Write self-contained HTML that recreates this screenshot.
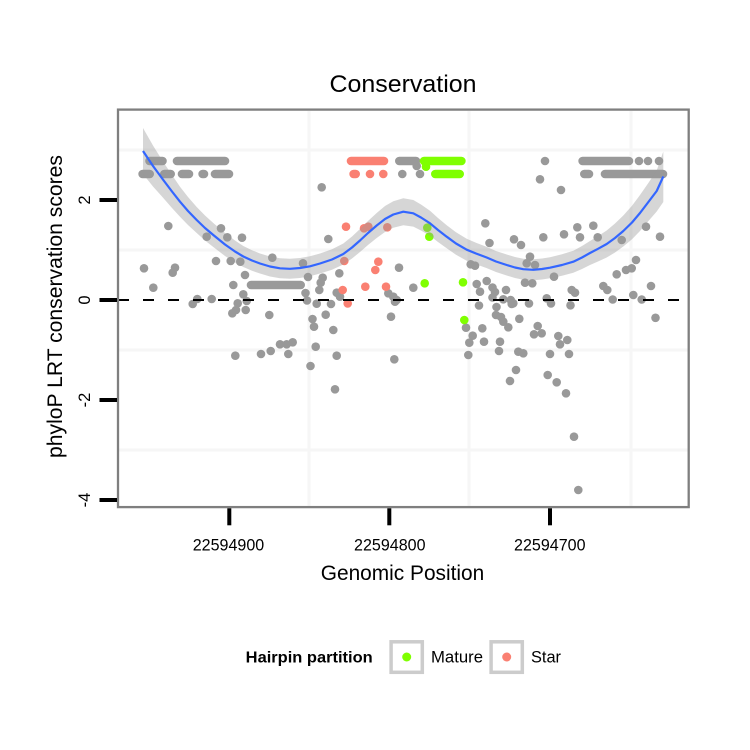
<!DOCTYPE html>
<html>
<head>
<meta charset="utf-8">
<style>
html,body{margin:0;padding:0;background:#fff;}
svg{display:block;}
text{font-family:"Liberation Sans",Arial,sans-serif;fill:#000;}
</style>
</head>
<body>
<svg width="750" height="750" viewBox="0 0 750 750" xmlns="http://www.w3.org/2000/svg">
<rect x="0" y="0" width="750" height="750" fill="#fff"/>
<text x="403" y="92" font-size="24" text-anchor="middle" textLength="147" lengthAdjust="spacingAndGlyphs">Conservation</text>
<g stroke="#f6f6f6" stroke-width="3">
<line x1="119" y1="150" x2="688" y2="150"/>
<line x1="119" y1="250" x2="688" y2="250"/>
<line x1="119" y1="350" x2="688" y2="350"/>
<line x1="119" y1="450" x2="688" y2="450"/>
<line x1="309" y1="111" x2="309" y2="506"/>
<line x1="469" y1="111" x2="469" y2="506"/>
<line x1="631" y1="111" x2="631" y2="506"/>
</g>
<g fill="#999999">
<circle cx="168.3" cy="226" r="4.3"/>
<circle cx="221" cy="228.3" r="4.3"/>
<circle cx="206.7" cy="236.7" r="4.3"/>
<circle cx="227.3" cy="237.3" r="4.3"/>
<circle cx="242" cy="237.7" r="4.3"/>
<circle cx="272.3" cy="257.7" r="4.3"/>
<circle cx="216" cy="261" r="4.3"/>
<circle cx="230.7" cy="261" r="4.3"/>
<circle cx="240.3" cy="261.7" r="4.3"/>
<circle cx="303" cy="263.3" r="4.3"/>
<circle cx="144" cy="268.3" r="4.3"/>
<circle cx="175" cy="267.7" r="4.3"/>
<circle cx="172.7" cy="272.7" r="4.3"/>
<circle cx="245" cy="275" r="4.3"/>
<circle cx="308" cy="277" r="4.3"/>
<circle cx="153.3" cy="287.7" r="4.3"/>
<circle cx="233.3" cy="285" r="4.3"/>
<circle cx="243.3" cy="294.3" r="4.3"/>
<circle cx="305.5" cy="293" r="4.3"/>
<circle cx="197.3" cy="299" r="4.3"/>
<circle cx="192.7" cy="304" r="4.3"/>
<circle cx="211.7" cy="299" r="4.3"/>
<circle cx="237.7" cy="303.3" r="4.3"/>
<circle cx="246.7" cy="301" r="4.3"/>
<circle cx="236" cy="310" r="4.3"/>
<circle cx="245.7" cy="310" r="4.3"/>
<circle cx="232.3" cy="313.3" r="4.3"/>
<circle cx="269.3" cy="315" r="4.3"/>
<circle cx="312.5" cy="319" r="4.3"/>
<circle cx="235.3" cy="355.7" r="4.3"/>
<circle cx="261" cy="354" r="4.3"/>
<circle cx="270.7" cy="351" r="4.3"/>
<circle cx="280" cy="344.3" r="4.3"/>
<circle cx="286.7" cy="344.3" r="4.3"/>
<circle cx="292.7" cy="342.3" r="4.3"/>
<circle cx="288.3" cy="354" r="4.3"/>
<circle cx="310.5" cy="366" r="4.3"/>
<circle cx="321.7" cy="187.3" r="4.3"/>
<circle cx="328.3" cy="239" r="4.3"/>
<circle cx="485.3" cy="223.3" r="4.3"/>
<circle cx="489.5" cy="243" r="4.3"/>
<circle cx="399" cy="267.7" r="4.3"/>
<circle cx="339.3" cy="273.3" r="4.3"/>
<circle cx="470.7" cy="264.3" r="4.3"/>
<circle cx="475" cy="265.7" r="4.3"/>
<circle cx="322.7" cy="277.7" r="4.3"/>
<circle cx="320.7" cy="282.7" r="4.3"/>
<circle cx="319.3" cy="290" r="4.3"/>
<circle cx="413.3" cy="287.7" r="4.3"/>
<circle cx="476.7" cy="284" r="4.3"/>
<circle cx="486.7" cy="281" r="4.3"/>
<circle cx="480" cy="291.7" r="4.3"/>
<circle cx="492.5" cy="287.5" r="4.3"/>
<circle cx="495" cy="292" r="4.3"/>
<circle cx="492.5" cy="297.5" r="4.3"/>
<circle cx="336.7" cy="292.7" r="4.3"/>
<circle cx="340" cy="296.7" r="4.3"/>
<circle cx="307" cy="300.5" r="4.3"/>
<circle cx="388.3" cy="293.3" r="4.3"/>
<circle cx="393.3" cy="296.7" r="4.3"/>
<circle cx="396.7" cy="300" r="4.3"/>
<circle cx="395" cy="301.7" r="4.3"/>
<circle cx="316.7" cy="303.7" r="4.3"/>
<circle cx="331" cy="304" r="4.3"/>
<circle cx="325.7" cy="314.7" r="4.3"/>
<circle cx="391" cy="316.7" r="4.3"/>
<circle cx="479" cy="305.5" r="4.3"/>
<circle cx="496.5" cy="307" r="4.3"/>
<circle cx="496" cy="315" r="4.3"/>
<circle cx="501" cy="317" r="4.3"/>
<circle cx="314" cy="326.7" r="4.3"/>
<circle cx="333.3" cy="330" r="4.3"/>
<circle cx="315.7" cy="346.7" r="4.3"/>
<circle cx="336.7" cy="355.7" r="4.3"/>
<circle cx="394.3" cy="359.3" r="4.3"/>
<circle cx="335" cy="389.3" r="4.3"/>
<circle cx="466" cy="327.7" r="4.3"/>
<circle cx="472.7" cy="335.7" r="4.3"/>
<circle cx="469.3" cy="342.7" r="4.3"/>
<circle cx="482.3" cy="328.3" r="4.3"/>
<circle cx="484" cy="341.7" r="4.3"/>
<circle cx="468.3" cy="355" r="4.3"/>
<circle cx="500" cy="341.7" r="4.3"/>
<circle cx="499" cy="351" r="4.3"/>
<circle cx="545" cy="161" r="4.3"/>
<circle cx="540" cy="179.3" r="4.3"/>
<circle cx="561" cy="190" r="4.3"/>
<circle cx="577.3" cy="227.3" r="4.3"/>
<circle cx="593.3" cy="225.7" r="4.3"/>
<circle cx="646" cy="226.7" r="4.3"/>
<circle cx="660" cy="236.7" r="4.3"/>
<circle cx="543.3" cy="237.3" r="4.3"/>
<circle cx="564" cy="234.3" r="4.3"/>
<circle cx="580" cy="237.3" r="4.3"/>
<circle cx="597.7" cy="237.3" r="4.3"/>
<circle cx="621.7" cy="240" r="4.3"/>
<circle cx="514" cy="239.3" r="4.3"/>
<circle cx="521" cy="245" r="4.3"/>
<circle cx="530" cy="256.7" r="4.3"/>
<circle cx="526.7" cy="263.3" r="4.3"/>
<circle cx="535" cy="265" r="4.3"/>
<circle cx="554" cy="276.7" r="4.3"/>
<circle cx="616.7" cy="274.3" r="4.3"/>
<circle cx="626" cy="270" r="4.3"/>
<circle cx="631.7" cy="268.3" r="4.3"/>
<circle cx="636" cy="260" r="4.3"/>
<circle cx="525" cy="282.7" r="4.3"/>
<circle cx="532.3" cy="283.3" r="4.3"/>
<circle cx="651" cy="286" r="4.3"/>
<circle cx="603.3" cy="286" r="4.3"/>
<circle cx="607.3" cy="290" r="4.3"/>
<circle cx="571.7" cy="290" r="4.3"/>
<circle cx="575" cy="292.7" r="4.3"/>
<circle cx="506" cy="290" r="4.3"/>
<circle cx="503.3" cy="299.3" r="4.3"/>
<circle cx="510.7" cy="300" r="4.3"/>
<circle cx="513.3" cy="303.3" r="4.3"/>
<circle cx="529" cy="303.5" r="4.3"/>
<circle cx="546.7" cy="298.3" r="4.3"/>
<circle cx="551" cy="303.5" r="4.3"/>
<circle cx="570.5" cy="305.3" r="4.3"/>
<circle cx="612.7" cy="299.5" r="4.3"/>
<circle cx="633.3" cy="295" r="4.3"/>
<circle cx="641.7" cy="299.5" r="4.3"/>
<circle cx="519.3" cy="318.8" r="4.3"/>
<circle cx="655.5" cy="317.8" r="4.3"/>
<circle cx="503.3" cy="321.7" r="4.3"/>
<circle cx="508.3" cy="327.3" r="4.3"/>
<circle cx="511.7" cy="304" r="4.3"/>
<circle cx="537.7" cy="326" r="4.3"/>
<circle cx="534" cy="334.3" r="4.3"/>
<circle cx="541.7" cy="333.3" r="4.3"/>
<circle cx="558.3" cy="336" r="4.3"/>
<circle cx="567.3" cy="340" r="4.3"/>
<circle cx="560" cy="344.3" r="4.3"/>
<circle cx="518.3" cy="351.7" r="4.3"/>
<circle cx="523.3" cy="353.3" r="4.3"/>
<circle cx="550" cy="354" r="4.3"/>
<circle cx="569" cy="354" r="4.3"/>
<circle cx="516" cy="370" r="4.3"/>
<circle cx="510" cy="381" r="4.3"/>
<circle cx="547.7" cy="375" r="4.3"/>
<circle cx="556.7" cy="382.3" r="4.3"/>
<circle cx="566" cy="393.3" r="4.3"/>
<circle cx="574" cy="436.7" r="4.3"/>
<circle cx="578.3" cy="490" r="4.3"/>
<circle cx="416.7" cy="166" r="4.3"/>
<circle cx="402.3" cy="174" r="4.3"/>
<circle cx="420" cy="174" r="4.3"/>
<circle cx="639" cy="161" r="4.3"/>
<circle cx="648" cy="161" r="4.3"/>
<circle cx="659" cy="161" r="4.3"/>
</g>
<g stroke="#999999" stroke-width="8.6" stroke-linecap="round" fill="none">
<line x1="149.5" y1="161" x2="162.5" y2="161"/>
<line x1="177" y1="161" x2="225" y2="161"/>
<line x1="399.3" y1="161" x2="416" y2="161"/>
<line x1="582.6" y1="161" x2="629" y2="161"/>
<line x1="142.6" y1="174" x2="149.7" y2="174"/>
<line x1="164.3" y1="174" x2="170.7" y2="174"/>
<line x1="182" y1="174" x2="189" y2="174"/>
<line x1="202.6" y1="174" x2="204" y2="174"/>
<line x1="215" y1="174" x2="229" y2="174"/>
<line x1="584.3" y1="174" x2="589" y2="174"/>
<line x1="605" y1="174" x2="663" y2="174"/>
<line x1="251" y1="285" x2="300.7" y2="285"/>
</g>
<g fill="#FA8072">
<circle cx="346" cy="226.7" r="4.3"/>
<circle cx="364" cy="228.3" r="4.3"/>
<circle cx="368.3" cy="226.7" r="4.3"/>
<circle cx="387.3" cy="227.3" r="4.3"/>
<circle cx="344.3" cy="261" r="4.3"/>
<circle cx="378.3" cy="261.7" r="4.3"/>
<circle cx="375.3" cy="270" r="4.3"/>
<circle cx="365.3" cy="286.7" r="4.3"/>
<circle cx="386" cy="286.7" r="4.3"/>
<circle cx="342.7" cy="290" r="4.3"/>
<circle cx="347.7" cy="303.5" r="4.3"/>
<circle cx="370" cy="174" r="4.3"/>
<circle cx="383.3" cy="174" r="4.3"/>
</g>
<g stroke="#FA8072" stroke-width="8.6" stroke-linecap="round" fill="none">
<line x1="351" y1="161" x2="384" y2="161"/>
<line x1="353.6" y1="174" x2="355.7" y2="174"/>
</g>
<g fill="#7FFF00">
<circle cx="427.3" cy="227.7" r="4.3"/>
<circle cx="429.3" cy="236.7" r="4.3"/>
<circle cx="424.7" cy="283.3" r="4.3"/>
<circle cx="463" cy="282.3" r="4.3"/>
<circle cx="464.3" cy="320" r="4.3"/>
<circle cx="426" cy="166.7" r="4.3"/>
</g>
<g stroke="#7FFF00" stroke-width="8.6" stroke-linecap="round" fill="none">
<line x1="424" y1="161" x2="461.4" y2="161"/>
<line x1="435.3" y1="174" x2="459.7" y2="174"/>
</g>
<polygon fill="#999999" fill-opacity="0.4" points="143,128 153,145.5 163.3,162 172,175 180,186.7 188,197 196.7,207 205,215.5 213.3,223 225,233 235,240.5 243.3,246 252,250.2 260,253.5 270,256.5 280,258.3 290,258.8 300,258 310,256.3 320,253.5 332,249.3 343.3,243.5 352,236.5 360,229 368,221 376.7,213 385,206 393.3,201.2 403.3,198.2 413.3,200 421,204.5 430,210.8 438,218 446.7,225.2 456,232.3 466.7,238.7 476,242.7 486.7,246.9 496,251 506.7,254.5 515,257 523.3,258.7 533.3,259.3 542,258.5 550,257.2 562,254.3 573.3,250.7 582,246 590,241 598,236.1 606.7,230.5 615,223.5 623.3,215.5 632,205.8 640,195 648,183.5 656.7,170.5 663.3,151.5 663.3,202 656.7,211.5 648,221.5 640,231 632,239.2 623.3,246.5 615,252.5 606.7,257.5 598,261.5 590,265 582,269 573.3,272.7 562,275.7 550,278.2 542,279.5 533.3,280.3 523.3,279.7 515,278 506.7,275.5 496,272 486.7,268.1 476,264.3 466.7,260.7 456,254.7 446.7,248.2 438,242 430,235.8 421,230.5 413.3,226.6 403.3,225.2 393.3,227.8 385,232 376.7,238 368,245 360,252 352,258.5 343.3,264.5 332,269.7 320,273.5 310,276.3 300,278 290,278.8 280,278.3 270,276.5 260,273.5 252,270.8 243.3,267 235,262.5 225,256 213.3,247 205,240.5 196.7,233 188,225 180,216.7 172,208 163.3,198 153,186.5 143,174"/>
<polyline fill="none" stroke="#3366FF" stroke-width="2.2" stroke-linejoin="round" points="143,151 153,166 163.3,180 172,191.5 180,201.7 188,211 196.7,220 205,228 213.3,235 225,244.5 235,251.5 243.3,256.5 252,260.5 260,263.5 270,266.5 280,268.3 290,268.8 300,268 310,266.3 320,263.5 332,259.5 343.3,254 352,247.5 360,240.5 368,233 376.7,225.5 385,219 393.3,214.5 403.3,211.7 413.3,213.3 421,217.5 430,223.3 438,230 446.7,236.7 456,243.5 466.7,249.7 476,253.5 486.7,257.5 496,261.5 506.7,265 515,267.5 523.3,269.2 533.3,269.8 542,269 550,267.7 562,265 573.3,261.7 582,257.5 590,253 598,248.8 606.7,244 615,238 623.3,231 632,222.5 640,213 648,202.5 656.7,191 663.3,176.5"/>
<line x1="118" y1="300" x2="688" y2="300" stroke="#000" stroke-width="2" stroke-dasharray="11 14"/>
<rect x="118" y="109.6" width="570.7" height="397.5" fill="none" stroke="#7f7f7f" stroke-width="2.3"/>
<g fill="#000">
<rect x="99.5" y="198" width="17.5" height="4"/>
<rect x="99.5" y="298" width="17.5" height="4"/>
<rect x="99.5" y="398" width="17.5" height="4"/>
<rect x="99.5" y="498" width="17.5" height="4"/>
<rect x="227.3" y="508.3" width="4" height="17"/>
<rect x="387.3" y="508.3" width="4" height="17"/>
<rect x="548" y="508.3" width="4" height="17"/>
</g>
<g font-size="16.5" text-anchor="middle">
<text transform="translate(90,200) rotate(-90)">2</text>
<text transform="translate(90,300) rotate(-90)">0</text>
<text transform="translate(90,400) rotate(-90)">-2</text>
<text transform="translate(90,500) rotate(-90)">-4</text>
</g>
<g font-size="16.5" text-anchor="middle">
<text x="228.5" y="550.5" textLength="71.5" lengthAdjust="spacingAndGlyphs">22594900</text>
<text x="389.8" y="550.5" textLength="71.5" lengthAdjust="spacingAndGlyphs">22594800</text>
<text x="549.8" y="550.5" textLength="71.5" lengthAdjust="spacingAndGlyphs">22594700</text>
</g>
<text x="402.5" y="580" font-size="21" text-anchor="middle" textLength="163.5" lengthAdjust="spacingAndGlyphs">Genomic Position</text>
<text transform="translate(62,306.5) rotate(-90)" font-size="21" text-anchor="middle" textLength="303" lengthAdjust="spacingAndGlyphs">phyloP LRT conservation scores</text>
<text x="245.7" y="662.7" font-size="16" font-weight="bold" textLength="127" lengthAdjust="spacingAndGlyphs">Hairpin partition</text>
<rect x="391.1" y="641.8" width="31.2" height="30.5" fill="#fff" stroke="#cccccc" stroke-width="3.5"/>
<circle cx="406.7" cy="657" r="4.5" fill="#7FFF00"/>
<text x="431" y="662.7" font-size="16.5" textLength="52" lengthAdjust="spacingAndGlyphs">Mature</text>
<rect x="491.1" y="641.8" width="31.2" height="30.5" fill="#fff" stroke="#cccccc" stroke-width="3.5"/>
<circle cx="506.7" cy="657" r="4.5" fill="#FA8072"/>
<text x="531" y="662.7" font-size="16.5" textLength="30" lengthAdjust="spacingAndGlyphs">Star</text>
</svg>
</body>
</html>
